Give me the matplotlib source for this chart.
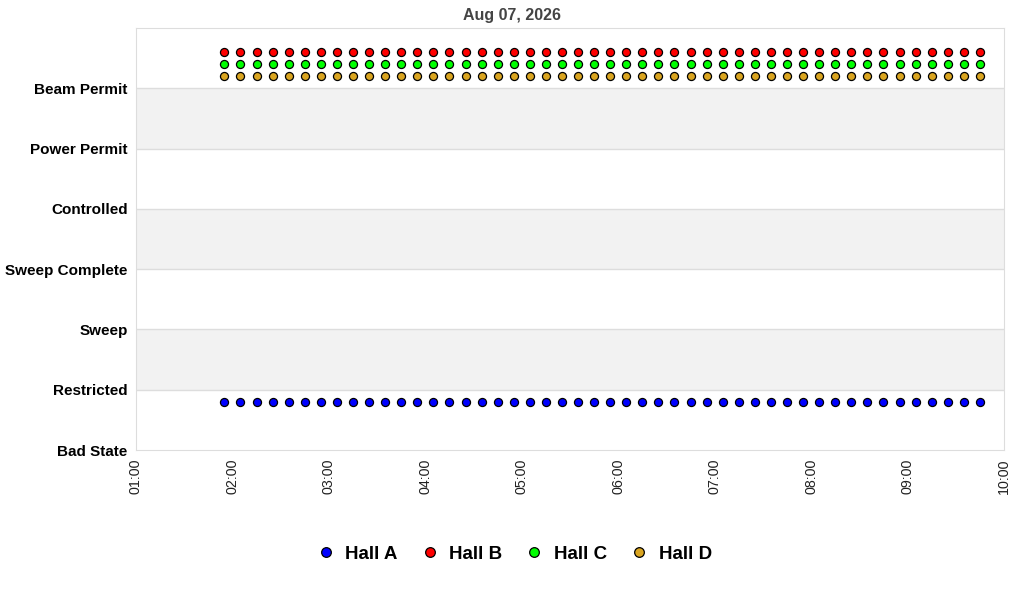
import matplotlib
matplotlib.use("Agg")
import matplotlib.pyplot as plt
import matplotlib.dates as mdates
from datetime import datetime

plt.rcParams["font.family"] = ["Liberation Sans", "DejaVu Sans"]

# sample times (Aug 07, 2026)
times = ["01:55", "02:05", "02:15", "02:25", "02:35", "02:45", "02:55", "03:05",
         "03:15", "03:25", "03:35", "03:45", "03:55", "04:05", "04:15", "04:25",
         "04:35", "04:45", "04:55", "05:05", "05:15", "05:25", "05:35", "05:45",
         "05:55", "06:05", "06:15", "06:25", "06:35", "06:45", "06:55", "07:05",
         "07:15", "07:25", "07:35", "07:45", "07:55", "08:05", "08:15", "08:25",
         "08:35", "08:45", "08:55", "09:05", "09:15", "09:25", "09:35", "09:45"]

states = ["Bad State", "Restricted", "Sweep", "Sweep Complete",
          "Controlled", "Power Permit", "Beam Permit"]

halls = ["Hall A", "Hall B", "Hall C", "Hall D"]
hall_colors = ["#0000FF", "#FF0000", "#00FF00", "#DAA520"]
hall_a = [0.8] * len(times)
hall_b = [6.6] * len(times)
hall_c = [6.4] * len(times)
hall_d = [6.2] * len(times)
hall_values = [hall_a, hall_b, hall_c, hall_d]

x = [datetime.strptime("2026-08-07 " + t, "%Y-%m-%d %H:%M") for t in times]

fig = plt.figure(figsize=(10.24, 6), dpi=100)
ax = fig.add_axes([136 / 1024, 1 - 450 / 600, 868 / 1024, 422 / 600])

# alternating bands
for i in range(len(states)):
    if i % 2 == 1:
        ax.axhspan(i, i + 1, color="#F2F2F2", zorder=0, lw=0)
for i in range(1, len(states)):
    ax.axhline(i, color="#DDDDDD", lw=1, zorder=1)

for name, col, vals in zip(halls, hall_colors, hall_values):
    ax.plot(x, vals, linestyle="none", marker="o", ms=5.8, mfc=col,
            mec="black", mew=0.9, label=name, zorder=3)

ax.set_ylim(0, 7)
ax.set_yticks(range(len(states)))
ax.set_yticklabels(states, fontsize=11, fontweight="bold")
ax.set_xlim(datetime(2026, 8, 7, 1, 0), datetime(2026, 8, 7, 10, 0))
ax.xaxis.set_major_locator(mdates.HourLocator())
ax.xaxis.set_major_formatter(mdates.DateFormatter("%H:%M"))
plt.setp(ax.get_xticklabels(), rotation=90, fontsize=10.3, color="#222222")
ax.tick_params(length=0, pad=6)
ax.tick_params(axis="y", pad=6)

for s in ax.spines.values():
    s.set_color("#DDDDDD")

fig.suptitle("Aug 07, 2026", y=0.987, fontsize=11.5, fontweight="bold", color="#444444")

fig.legend(loc="center", bbox_to_anchor=(513 / 1024, 1 - 554 / 600), ncol=4,
           frameon=False, prop={"weight": "bold", "size": 13.5}, markerscale=1.2,
           handletextpad=0.45, columnspacing=1.1, handlelength=1.2)

fig.savefig("out.png", dpi=100)
